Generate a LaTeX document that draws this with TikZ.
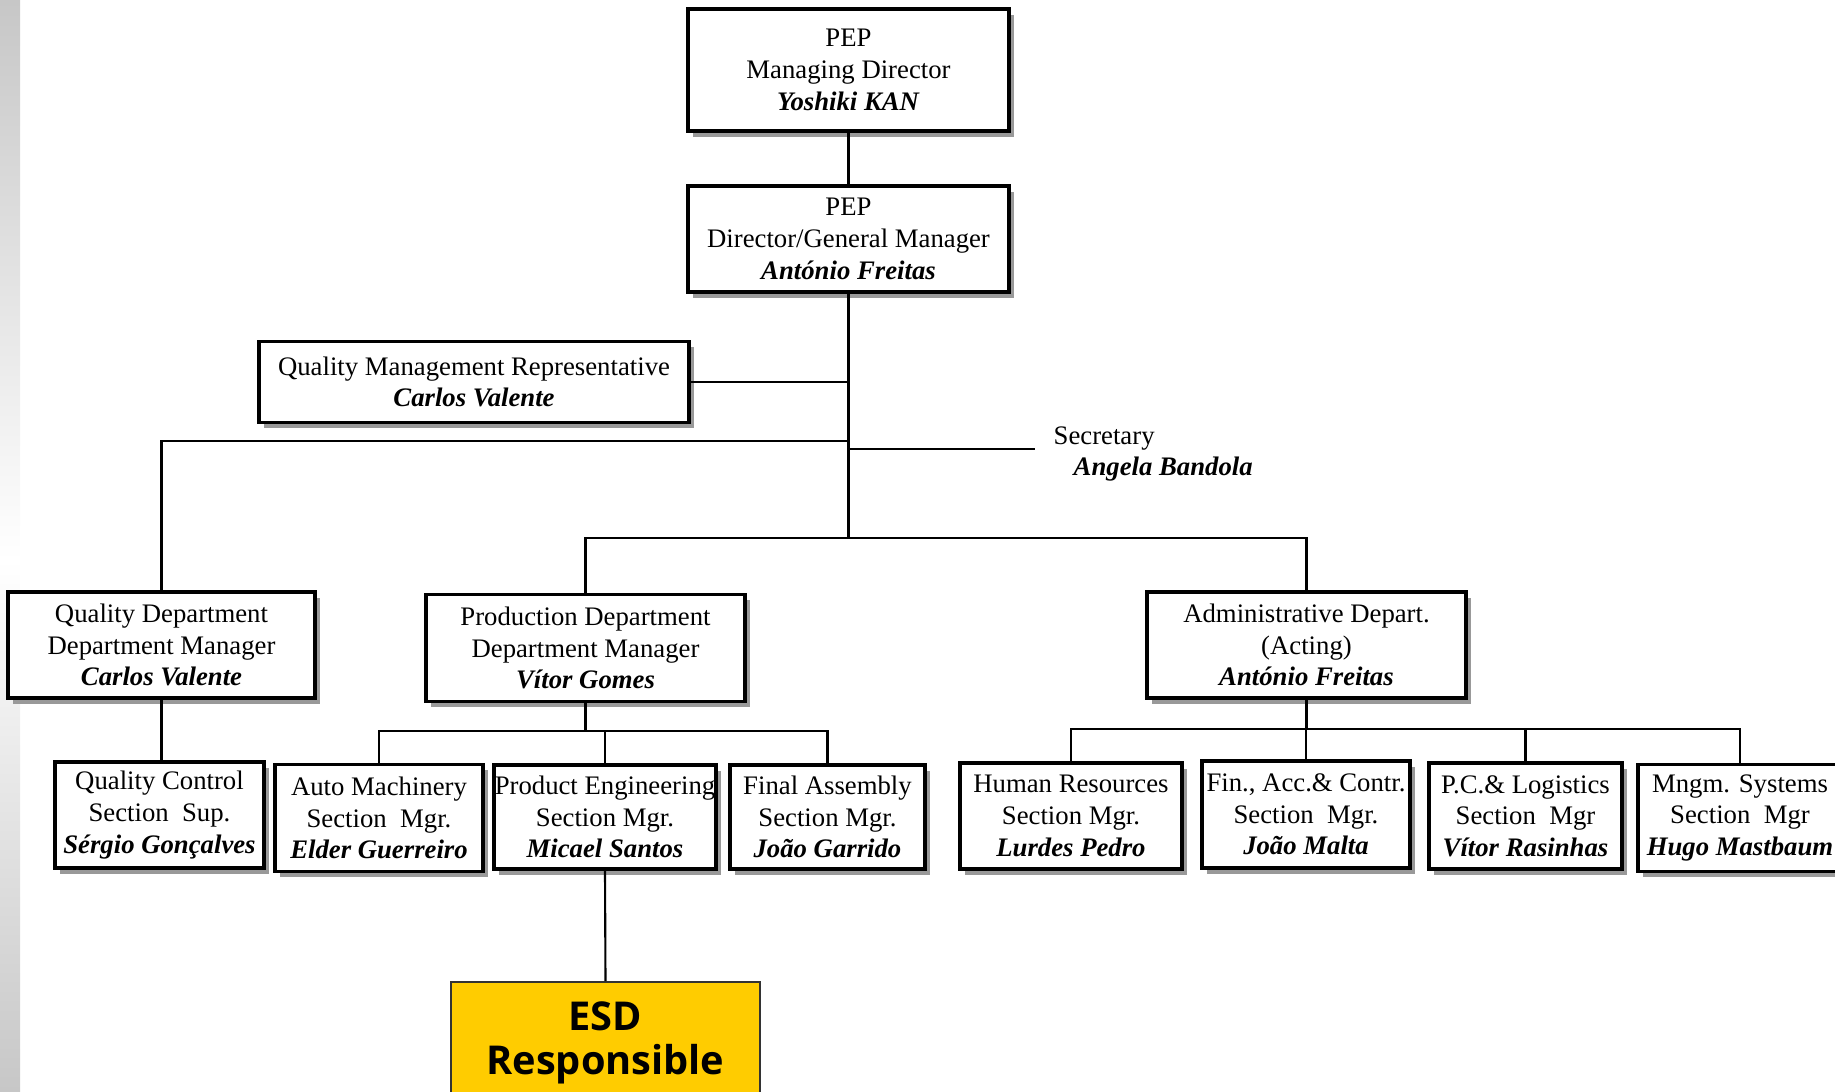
\documentclass[tikz,border=0pt]{standalone}
\usepackage{fontspec}
\usepackage{xcolor}
\setmainfont{Liberation Serif}
\newfontfamily\esdfont{Open Sans}
\usetikzlibrary{shadows,positioning}
\definecolor{esdgold}{HTML}{FFCC00}
\newcommand{\who}[1]{\textbf{\textit{#1}}}

\begin{document}
\begin{tikzpicture}[x=0.01cm, y=-0.01cm,
    boxsize/.style 2 args={minimum width=#1*0.01cm, minimum height=#2*0.01cm},
    post/.style={rectangle, draw, line width=1.1pt, fill=white, align=center, inner sep=0pt,
        font=\fontsize{7.6}{9}\selectfont,
        drop shadow={shadow xshift=0.05cm, shadow yshift=-0.06cm, fill=black!40, opacity=1}},
    esd/.style={rectangle, draw=black!80, line width=0.5pt, fill=esdgold, align=center,
        font=\esdfont\bfseries\fontsize{11.3}{12.4}\selectfont},
    branch/.style={line width=0.6pt}
]
\useasboundingbox (0,0) rectangle (1835,1092);
\clip (0,0) rectangle (1835,1092);

% Side bar
\shade[top color=black!22, bottom color=white] (0,0) rectangle (20,560);
\shade[top color=white, bottom color=black!22] (0,560) rectangle (20,1092);

% Direction
\node[post, boxsize={321}{122}] (md) at (848.5,70) {PEP\\Managing Director\\\who{Yoshiki KAN}};
\node[post, boxsize={321}{106}] (gm) at (848.5,239) {PEP\\Director/General Manager\\\who{António Freitas}};
\node[post, boxsize={430}{81}] (qmr) at (474,382) {Quality Management Representative\\\who{Carlos Valente}};
\node[anchor=west, align=left, inner sep=0pt, font=\fontsize{7.6}{9}\selectfont] (sec) at (1053,454)
    {Secretary\\\hspace{0.2cm}\who{Angela Bandola}};

% Departments
\node[post, boxsize={307}{106}] (qd) at (161.5,645) {Quality Department\\Department Manager\\\who{Carlos Valente}};
\node[post, boxsize={319}{107}] (pd) at (585.5,648) {Production Department\\Department Manager\\\who{Vítor Gomes}};
\node[post, boxsize={319}{106}] (ad) at (1306.5,645) {Administrative Depart.\\(Acting)\\\who{António Freitas}};

% Sections
\node[post, boxsize={209}{106}] (qc) at (159.5,815) {Quality Control\\Section\enspace Sup.\\\who{Sérgio Gonçalves}};
\node[post, boxsize={208}{107}] (am) at (379,818) {Auto Machinery\\Section\enspace Mgr.\\\who{Elder Guerreiro}};
\node[post, boxsize={222}{104}] (pe) at (605,817) {Product Engineering\\Section Mgr.\\\who{Micael Santos}};
\node[post, boxsize={195}{104}] (fa) at (827.5,817) {Final Assembly\\Section Mgr.\\\who{João Garrido}};
\node[post, boxsize={222}{106}] (hr) at (1071,816) {Human Resources\\Section Mgr.\\\who{Lurdes Pedro}};
\node[post, boxsize={208}{107}] (fin) at (1306,814.5) {Fin., Acc.\& Contr.\\Section\enspace Mgr.\\\who{João Malta}};
\node[post, boxsize={193}{106}] (pc) at (1525.5,816) {P.C.\& Logistics\\Section\enspace Mgr\\\who{Vítor Rasinhas}};
\node[post, boxsize={204}{107}] (ms) at (1740,818) {Mngm. Systems\\Section\enspace Mgr\\\who{Hugo Mastbaum}};

% ESD
\node[esd, boxsize={309}{122}] (esdr) at (605.5,1043) {ESD\\Responsible};

% Lines
\coordinate (hub) at (848.5,538);
\coordinate (qdbar) at (848.5,441);
\coordinate (secend) at (1035,449);
\coordinate (pdbar) at (585.5,731);
\coordinate (adbar) at (1306.5,729);
\draw[branch] (md) -- (gm);
\draw[branch] (gm.south) -- (hub);
\draw[branch] (qmr.east) -- (qmr.east -| gm.south);
\draw[branch] (secend -| gm.south) -- (secend);
\draw[branch] (qdbar) -| (qd.north);
\draw[branch] (pd.north) |- (hub) -| (ad.north);
\draw[branch] (qd.south) -- (qd.south |- qc.north);
\draw[branch] (pd.south) -- (pdbar);
\draw[branch] (am.north) |- (pdbar) -| (fa.north);
\draw[branch] (pe.north) -- (pe.north |- pdbar);
\draw[branch] (ad.south) -- (adbar);
\draw[branch] (hr.north) |- (adbar) -| (ms.north);
\draw[branch] (fin.north) -- (fin.north |- adbar);
\draw[branch] (pc.north) -- (pc.north |- adbar);
\draw[branch] (pe.south) -- (esdr.north);

\end{tikzpicture}
\end{document}
